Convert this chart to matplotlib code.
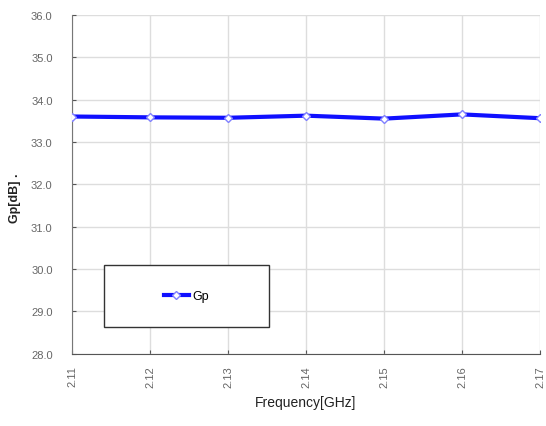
from matplotlib import pyplot as plt
from matplotlib.patches import Rectangle

plt.rcParams['font.family'] = ['Liberation Sans', 'DejaVu Sans']

freq_labels = ['2.11', '2.12', '2.13', '2.14', '2.15', '2.16', '2.17']
freq = [2.11, 2.12, 2.13, 2.14, 2.15, 2.16, 2.17]
gp = [33.60, 33.58, 33.57, 33.62, 33.55, 33.65, 33.56]
y_ticks = [28.0, 29.0, 30.0, 31.0, 32.0, 33.0, 34.0, 35.0, 36.0]

fig = plt.figure(figsize=(5.46, 4.27), dpi=100)
ax = fig.add_axes([0.132, 0.169, 0.857, 0.794])

ax.plot(freq, gp, color='#1010ff', linewidth=3, marker='D', markersize=4,
        markerfacecolor='white', markeredgecolor='#8080ff', label='Gp', zorder=3)

ax.set_xlim(2.11, 2.17)
ax.set_ylim(28, 36)
ax.set_xticks(freq)
ax.set_xticklabels(freq_labels, rotation=90, fontsize=8, color='#666666')
ax.set_yticks(y_ticks)
ax.set_yticklabels(['%.1f' % v for v in y_ticks], fontsize=8, color='#666666')
ax.tick_params(axis='y', direction='in', length=3, color='#555555', pad=14)
ax.tick_params(axis='x', direction='in', length=3, color='#555555', pad=8)
ax.grid(True, color='#dddddd', linewidth=1)
ax.set_axisbelow(True)

for side in ['top', 'right']:
    ax.spines[side].set_visible(False)
ax.spines['left'].set_color('#777777')
ax.spines['bottom'].set_color('#555555')

ax.set_xlabel('Frequency[GHz]', fontsize=10, color='#222222', labelpad=6)
fig.text(0.028, 0.536, 'Gp[dB] .', rotation=90, fontsize=9, fontweight='bold',
         color='#222222', ha='center', va='center')

# legend box drawn larger than its content, as in the original
ax.add_patch(Rectangle((0.068, 0.08), 0.352, 0.183, transform=ax.transAxes,
                       facecolor='white', edgecolor='#333333', linewidth=1, zorder=4))
leg = ax.legend(loc='center', bbox_to_anchor=(0.244, 0.17), frameon=False,
                fontsize=9, handlelength=2.0, handletextpad=0.3)
leg.set_zorder(5)

plt.savefig('out.png', dpi=100)
plt.close()
